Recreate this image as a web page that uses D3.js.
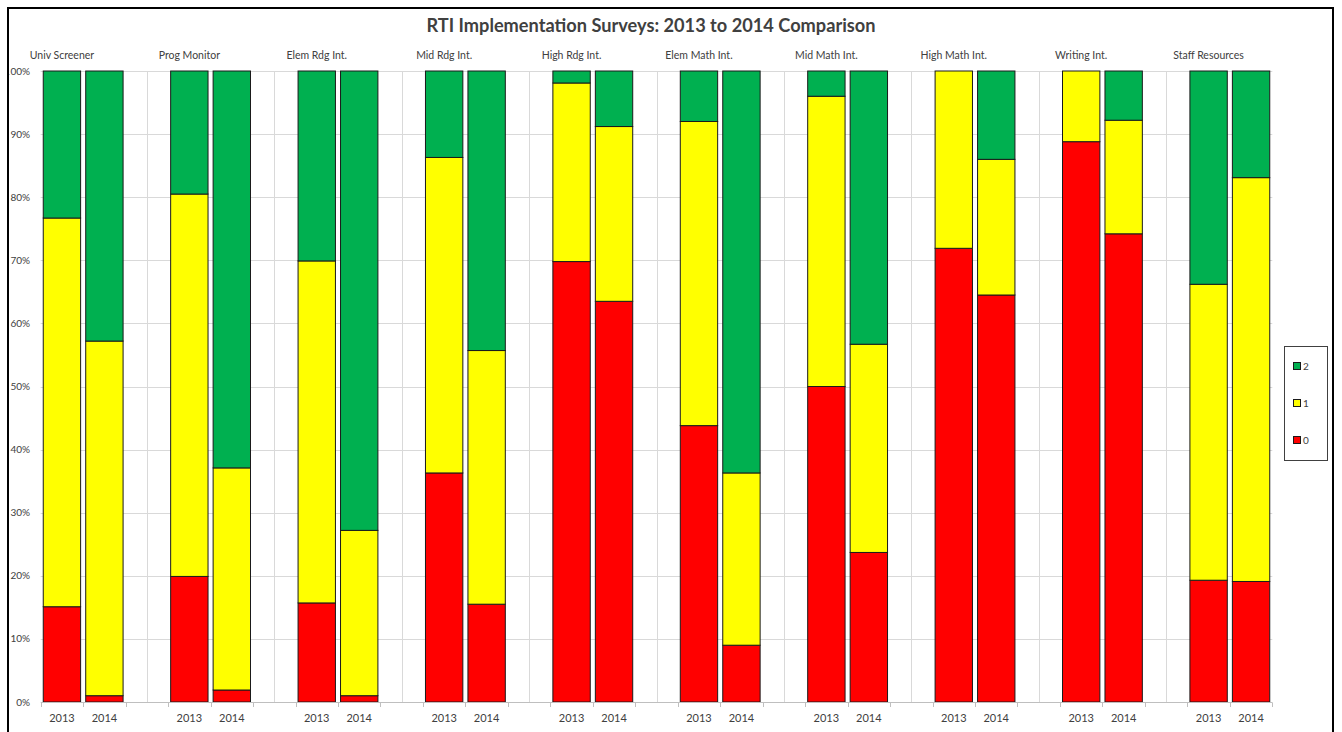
<!DOCTYPE html>
<html lang="en">
<head>
<meta charset="UTF-8">
<title>RTI Implementation Surveys</title>
<script src="https://d3js.org/d3.v7.min.js"></script>
<style>
    body { margin: 0; background: #fff; }
    svg { display: block; font-family: Lato, "Open Sans", sans-serif; }
    .lbl { fill: #404040; }
</style>
</head>
<body>
<svg width="1342" height="732"></svg>
<script>
    // survey categories and years
    const categories = ["Univ Screener", "Prog Monitor", "Elem Rdg Int.", "Mid Rdg Int.", "High Rdg Int.",
                        "Elem Math Int.", "Mid Math Int.", "High Math Int.", "Writing Int.", "Staff Resources"];
    const years = ["2013", "2014"];

    // percent of responses per level, in order cat1-2013, cat1-2014, cat2-2013 ...
    const level0 = [15.1, 1.0, 19.9, 1.9, 15.7, 1.0, 36.3, 15.5, 69.8, 63.5,
                    43.8, 9.0, 50.0, 23.7, 71.9, 64.5, 88.8, 74.2, 19.3, 19.1];
    const level1 = [61.6, 56.2, 60.6, 35.2, 54.2, 26.2, 50.0, 40.2, 28.3, 27.7,
                    48.2, 27.3, 46.0, 33.0, 28.1, 21.5, 11.2, 18.0, 46.9, 64.0];
    const level2 = [23.3, 42.8, 19.5, 62.9, 30.1, 72.8, 13.7, 44.3, 1.9, 8.8,
                    8.0, 63.7, 4.0, 43.3, 0.0, 14.0, 0.0, 7.8, 33.8, 16.9];

    const levelKeys = ["0", "1", "2"];
    const levelColors = {"0": "#ff0000", "1": "#ffff00", "2": "#00b050"};
    const yTicks = [0, 10, 20, 30, 40, 50, 60, 70, 80, 90, 100];

    const svg = d3.select("svg");

    // one row per bar, with its slot (2 bars + a blank slot per category)
    const rows = [];
    categories.forEach((c, i) => {
        years.forEach((yr, j) => {
            const k = i * 2 + j;
            rows.push({cat: c, year: yr, slot: i * 3 + j, "0": level0[k], "1": level1[k], "2": level2[k]});
        });
    });

    const nSlots = categories.length * 3 - 1;
    const x = d3.scaleBand().domain(d3.range(nSlots)).range([40.7, 1272.3]).paddingInner(0.12).paddingOuter(0.06);
    const y = d3.scaleLinear().domain([0, 100]).range([702, 71]);
    const step = x.step();
    const slotLeft = s => 40.7 + s * step;

    // frame
    svg.append("rect")
        .attr("x", 8).attr("y", 8).attr("width", 1325).attr("height", 740)
        .attr("fill", "#fff").attr("stroke", "#000").attr("stroke-width", 2);

    // title
    const title = svg.append("text")
        .attr("x", 651).attr("y", 32)
        .attr("text-anchor", "middle")
        .attr("font-size", 18).attr("font-weight", "bold")
        .attr("fill", "#404040")
        .text("RTI Implementation Surveys: 2013 to 2014 Comparison");
    title.attr("textLength", 449).attr("lengthAdjust", "spacingAndGlyphs");

    // gridlines
    const grid = svg.append("g").attr("stroke", "#d9d9d9").attr("stroke-width", 1);
    grid.selectAll("line.h").data(yTicks.slice(1)).join("line")
        .attr("class", "h")
        .attr("x1", 40.7).attr("x2", 1272.3)
        .attr("y1", d => Math.round(y(d)) + 0.5).attr("y2", d => Math.round(y(d)) + 0.5);
    grid.selectAll("line.v").data(d3.range(categories.length - 1)).join("line")
        .attr("class", "v")
        .attr("x1", d => Math.round(slotLeft(d * 3 + 2.5)) + 0.5)
        .attr("x2", d => Math.round(slotLeft(d * 3 + 2.5)) + 0.5)
        .attr("y1", y(100)).attr("y2", y(0));

    // y labels, clipped by the frame on the left like the original
    svg.append("clipPath").attr("id", "yclip")
        .append("rect").attr("x", 9.5).attr("y", 0).attr("width", 40).attr("height", 732);
    svg.append("g").attr("clip-path", "url(#yclip)")
        .selectAll("text").data(yTicks).join("text")
        .attr("class", "lbl")
        .attr("x", 30).attr("y", d => y(d))
        .attr("dy", "0.35em")
        .attr("text-anchor", "end")
        .attr("font-size", 10)
        .attr("fill", "#595959")
        .text(d => d + "%");

    // stacked bars
    const series = d3.stack().keys(levelKeys)(rows);
    svg.append("g").selectAll("g").data(series).join("g")
        .attr("fill", d => levelColors[d.key])
        .selectAll("rect").data(d => d.filter(p => p[1] - p[0] > 0)).join("rect")
        .attr("x", d => x(d.data.slot))
        .attr("width", x.bandwidth())
        .attr("y", d => y(d[1]))
        .attr("height", d => y(d[0]) - y(d[1]))
        .attr("stroke", "#1a1a1a")
        .attr("stroke-width", 1);

    // bottom axis line and ticks at slot boundaries
    const axisG = svg.append("g").attr("stroke", "#bfbfbf").attr("stroke-width", 1);
    axisG.append("line")
        .attr("x1", 40.7).attr("x2", 1272.3)
        .attr("y1", 702.5).attr("y2", 702.5);
    axisG.selectAll("line.t").data(d3.range(nSlots + 1)).join("line")
        .attr("class", "t")
        .attr("x1", d => Math.round(slotLeft(d)) + 0.5).attr("x2", d => Math.round(slotLeft(d)) + 0.5)
        .attr("y1", 702.5).attr("y2", 707);

    // year labels
    svg.append("g").selectAll("text").data(rows).join("text")
        .attr("class", "lbl")
        .attr("x", d => x(d.data ? d.data.slot : d.slot) + x.bandwidth() / 2)
        .attr("y", 722)
        .attr("text-anchor", "middle")
        .attr("font-size", 11)
        .text(d => d.year);

    // category labels above the 2013 bar
    svg.append("g").selectAll("text").data(categories).join("text")
        .attr("class", "lbl")
        .attr("x", (d, i) => x(i * 3) + x.bandwidth() / 2)
        .attr("y", 59)
        .attr("text-anchor", "middle")
        .attr("font-size", 10.5)
        .text(d => d);

    // legend
    const legend = svg.append("g");
    legend.append("rect")
        .attr("x", 1284.5).attr("y", 346.5).attr("width", 43).attr("height", 114)
        .attr("fill", "#fff").attr("stroke", "#404040").attr("stroke-width", 1);
    const legendY = {"2": 366, "1": 403, "0": 440};
    const items = legend.selectAll("g").data(levelKeys.slice().reverse()).join("g")
        .attr("transform", d => `translate(1293,${legendY[d]})`);
    items.append("rect")
        .attr("x", 0.5).attr("y", -3.5).attr("width", 7).attr("height", 7)
        .attr("fill", d => levelColors[d]).attr("stroke", "#1a1a1a");
    items.append("text")
        .attr("class", "lbl")
        .attr("x", 10).attr("dy", "0.35em")
        .attr("font-size", 10)
        .text(d => d);
</script>
</body>
</html>
